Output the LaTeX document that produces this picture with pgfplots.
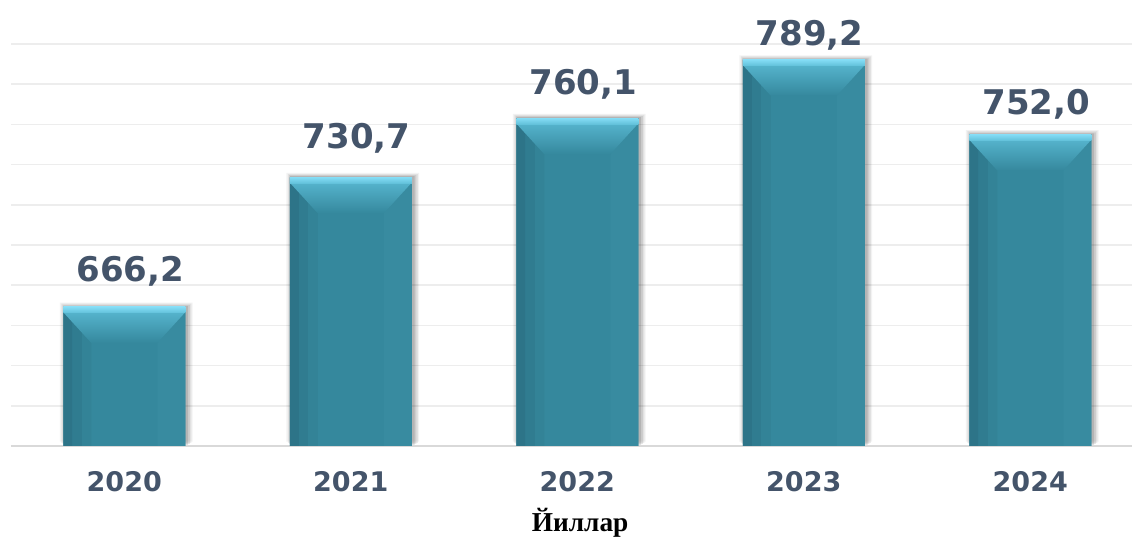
\documentclass[border=0pt]{standalone}
\usepackage{pgfplots}
\pgfplotsset{compat=1.18}
\usepackage{pgfplotstable}
\usepackage{fontspec}
\setmainfont{DejaVu Sans}
\newfontfamily\serifb{Liberation Serif}
\definecolor{txt}{HTML}{44546A}
\definecolor{barmid}{HTML}{35889D}
\definecolor{barlA}{HTML}{2D7488}
\definecolor{barlB}{HTML}{307C90}
\definecolor{barlC}{HTML}{338397}
\definecolor{barright}{HTML}{388BA0}
\definecolor{capTop}{HTML}{84DCF5}
\definecolor{capBot}{HTML}{62C1DA}
\definecolor{bevTop}{HTML}{55B3CC}
\definecolor{gridc}{HTML}{EDEDED}
\definecolor{basec}{HTML}{D9D9D9}

\pgfplotstableread{
x y off lab
0 666.2 19.2 666,2
1 730.7 21.5 730,7
2 760.1 17.6 760,1
3 789.2 10.7 789,2
4 752.0 14.9 752,0
}\datatab

\pgfdeclareplotmark{barcap}{%
  \path[draw=none, top color=bevTop, bottom color=barmid] (-45.75pt,-4pt) -- (45.75pt,-4pt) -- (24.75pt,-27pt) -- (-24.75pt,-27pt) -- cycle;
  \path[draw=none, top color=capTop, bottom color=capBot] (-45.75pt,-4.5pt) rectangle (45.75pt,0pt);
}

\begin{document}
\begin{tikzpicture}
\begin{axis}[
  name=ax,
  scale only axis, width=840.75pt, height=301.5pt,
  xmin=-0.5, xmax=4.4492, ymin=597, ymax=797,
  ytick={597,617,...,797}, yticklabels={},
  ymajorgrids, grid style={gridc, line width=1.1pt},
  axis x line*=bottom,
  y axis line style={draw=none},
  x axis line style={basec, line width=1.5pt, -},
  xtick={0,...,4}, xticklabels={2020,2021,2022,2023,2024},
  major tick length=0pt,
  tick style={draw=none},
  xticklabel style={font=\fontsize{20.25}{20}\selectfont\bfseries, text=txt, anchor=base, yshift=-34.5pt, inner sep=0pt},
  xlabel={Йиллар},
  xlabel style={font=\serifb\bfseries\fontsize{20.5}{21}\selectfont, at={(rel axis cs:0.5,0)}, anchor=base, yshift=-64.5pt, xshift=6.5pt, inner sep=0pt},
  clip mode=individual,
]
% soft shadow layers
\addplot[ybar, bar width=99.5pt, draw=none, fill=black, fill opacity=0.05, xshift=1.5pt, yshift=3.2pt] table[x=x,y=y]{\datatab};
\addplot[ybar, bar width=97.5pt, draw=none, fill=black, fill opacity=0.07, xshift=1.5pt, yshift=2.4pt] table[x=x,y=y]{\datatab};
\addplot[ybar, bar width=95.5pt, draw=none, fill=black, fill opacity=0.09, xshift=1.5pt, yshift=1.6pt] table[x=x,y=y]{\datatab};
\addplot[ybar, bar width=93.5pt, draw=none, fill=black, fill opacity=0.12, xshift=1.2pt, yshift=0.8pt] table[x=x,y=y]{\datatab};
% bars
\addplot[ybar, bar width=91.5pt, draw=none, fill=barmid] table[x=x,y=y]{\datatab};
\addplot[ybar, bar width=7pt, bar shift=-42.25pt, draw=none, fill=barlA] table[x=x,y=y]{\datatab};
\addplot[ybar, bar width=7pt, bar shift=-35.25pt, draw=none, fill=barlB] table[x=x,y=y]{\datatab};
\addplot[ybar, bar width=7pt, bar shift=-28.25pt, draw=none, fill=barlC] table[x=x,y=y]{\datatab};
\addplot[ybar, bar width=21pt, bar shift=35.25pt, draw=none, fill=barright] table[x=x,y=y]{\datatab};
% top bevel and cap
\addplot[only marks, mark=barcap, mark options={draw=none}] table[x=x,y=y]{\datatab};
% value labels
\addplot[draw=none, mark=none, nodes near coords, point meta=explicit symbolic,
  visualization depends on={\thisrow{off}\as\off},
  every node near coord/.append style={font=\fontsize{25.5}{26}\selectfont\bfseries, text=txt, anchor=south, inner sep=0pt, text depth=0pt, yshift=\off pt, xshift=4.5pt}]
  table[x=x,y=y,meta=lab]{\datatab};
\end{axis}
\pgfresetboundingbox
\path ([shift={(-8.25pt,-69pt)}]ax.south west) rectangle ([shift={(0pt,33pt)}]ax.north east);
\end{tikzpicture}
\end{document}
